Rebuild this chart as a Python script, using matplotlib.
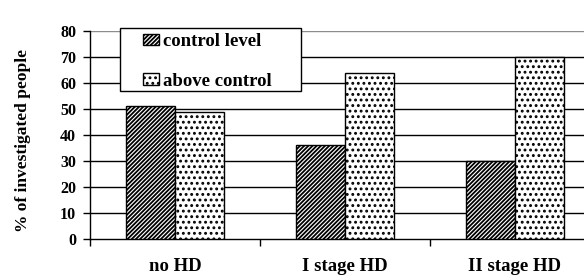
import numpy as np
import matplotlib.pyplot as plt
from matplotlib.patches import Rectangle
from matplotlib.ticker import FixedLocator

categories = ["no HD", "I stage HD", "II stage HD"]
control_level = [51, 36, 30]
above_control = [49, 64, 70]
y_ticks = [0, 10, 20, 30, 40, 50, 60, 70, 80]

plt.rcParams["font.family"] = ["Liberation Serif", "DejaVu Serif"]
plt.rcParams["font.weight"] = "bold"
plt.rcParams["hatch.linewidth"] = 1.3

fig = plt.figure(figsize=(5.84, 2.76), dpi=100)
ax = fig.add_axes([90 / 584, 37 / 276, 510 / 584, 208 / 276])

x = np.arange(len(categories))
w = 0.29
b1 = ax.bar(x - w / 2, control_level, w, facecolor="white", edgecolor="black",
            hatch="////////", lw=1.0, zorder=3, label="control level")
b2 = ax.bar(x + w / 2, above_control, w, facecolor="white", edgecolor="black",
            hatch="...", lw=1.0, zorder=3, label="above control")

ax.set_xlim(-0.5, len(categories) - 0.5)
ax.set_ylim(0, 80)
ax.set_yticks(y_ticks)
ax.tick_params(axis="y", labelsize=11.5, length=5, width=1, pad=5)
for v in y_ticks[1:]:
    ax.axhline(v, color="0.55" if v == 80 else "black", lw=1, zorder=1)

ax.set_xticks(x)
ax.set_xticklabels(categories, fontsize=13.5, fontweight="bold")
ax.tick_params(axis="x", which="major", length=0, pad=14)
ax.xaxis.set_minor_locator(FixedLocator([-0.5, 0.5, 1.5]))
ax.tick_params(axis="x", which="minor", length=5, width=1)

for s in ("top", "right"):
    ax.spines[s].set_visible(False)
ax.spines["left"].set_linewidth(1)
ax.spines["bottom"].set_linewidth(1)

fig.text(23 / 584, 1 - 140 / 276, "% of investigated people", rotation=90,
         ha="center", va="center", fontsize=12.5, fontweight="bold")

# legend box
fig.add_artist(Rectangle((120 / 584, 1 - 91 / 276), 181 / 584, 63 / 276,
                         transform=fig.transFigure, facecolor="white",
                         edgecolor="black", lw=1, zorder=4))
leg = fig.legend(handles=[b1, b2], loc="upper left",
                 bbox_to_anchor=(143 / 584, 1 - 33 / 276), fontsize=13.5,
                 frameon=False, handlelength=0.85, handleheight=0.55,
                 handletextpad=0.2, labelspacing=1.2, borderpad=0,
                 borderaxespad=0)
leg.set_zorder(5)

fig.savefig("out.png", dpi=100)
